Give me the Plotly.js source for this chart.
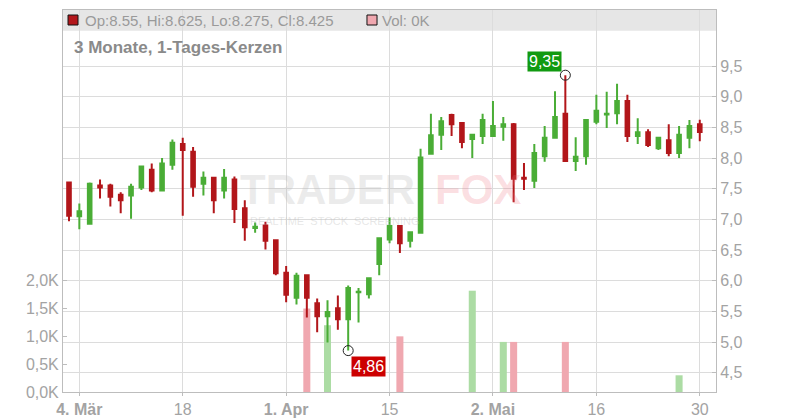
<!DOCTYPE html>
<html>
<head>
<meta charset="utf-8">
<script src="https://cdn.plot.ly/plotly-3.0.1.min.js"></script>
<style>html,body{margin:0;padding:0;background:#fff;}#chart{width:800px;height:420px;}</style>
</head>
<body>
<div id="chart"></div>
<script>
// Trading days (categories)
const dates = [
 "2024-03-01",
 "2024-03-04","2024-03-05","2024-03-06","2024-03-07","2024-03-08",
 "2024-03-11","2024-03-12","2024-03-13","2024-03-14","2024-03-15",
 "2024-03-18","2024-03-19","2024-03-20","2024-03-21","2024-03-22",
 "2024-03-25","2024-03-26","2024-03-27","2024-03-28","2024-03-29",
 "2024-04-01","2024-04-02","2024-04-03","2024-04-04","2024-04-05",
 "2024-04-08","2024-04-09","2024-04-10","2024-04-11","2024-04-12",
 "2024-04-15","2024-04-16","2024-04-17","2024-04-18","2024-04-19",
 "2024-04-22","2024-04-23","2024-04-24","2024-04-25","2024-04-26",
 "2024-05-02","2024-05-03","2024-05-06","2024-05-07","2024-05-08",
 "2024-05-09","2024-05-10","2024-05-13","2024-05-14","2024-05-15",
 "2024-05-16","2024-05-17","2024-05-20","2024-05-21","2024-05-22",
 "2024-05-23","2024-05-24","2024-05-27","2024-05-28","2024-05-29",
 "2024-05-30"
];
const openP = [7.60,7.05,6.93,7.55,7.55,7.40,7.39,7.52,7.81,7.47,
 7.89,8.23,8.10,7.58,7.68,7.47,7.65,7.18,6.86,6.90,
 6.66,6.13,5.72,6.09,5.63,5.42,5.55,5.37,5.81,5.78,
 6.27,6.67,6.89,6.65,6.78,8.07,8.38,8.70,8.57,8.31,
 8.36,8.36,8.51,8.55,7.68,7.63,8.03,8.33,8.72,7.95,
 8.03,8.59,8.71,8.73,8.93,8.36,8.42,8.16,8.29,8.08,
 8.33,8.55];
const highP = [7.60,7.26,7.60,7.65,7.58,7.44,7.58,7.87,7.91,8.00,
 8.30,8.33,8.18,7.78,7.68,7.82,7.70,7.31,6.95,6.96,
 6.66,6.24,6.13,6.09,5.71,5.68,5.76,5.92,5.88,6.04,
 6.69,7.03,6.89,6.80,8.15,8.72,8.67,8.72,8.57,8.39,
 8.72,8.93,8.67,8.57,7.92,8.23,8.52,9.09,9.35,8.34,
 8.62,9.03,9.08,9.21,9.03,8.65,8.47,8.34,8.55,8.52,
 8.62,8.625];
const lowP = [6.97,6.84,6.93,7.34,7.21,7.10,7.01,7.48,7.44,7.47,
 7.81,7.06,7.37,7.39,7.10,7.34,6.94,6.65,6.78,6.51,
 6.09,5.65,5.61,5.40,5.16,4.99,5.20,4.86,5.32,5.71,
 6.09,6.61,6.45,6.54,6.78,8.06,8.13,8.36,8.16,8.00,
 8.23,8.36,8.28,7.28,7.48,7.51,7.94,8.32,7.94,7.79,
 7.89,8.55,8.49,8.55,8.26,8.23,8.18,8.13,8.03,8.00,
 8.16,8.275];
const closeP = [7.06,7.13,7.58,7.52,7.37,7.31,7.53,7.86,7.47,7.91,
 8.25,8.13,7.53,7.68,7.31,7.68,7.17,6.87,6.88,6.65,
 6.12,5.77,6.08,5.72,5.42,5.49,5.37,5.88,5.82,6.04,
 6.69,6.89,6.61,6.79,8.01,8.37,8.60,8.55,8.26,8.38,
 8.62,8.52,8.55,7.66,7.66,8.08,8.33,8.67,7.95,8.02,
 8.62,8.77,8.72,8.93,8.36,8.42,8.21,8.33,8.08,8.38,
 8.52,8.425];
const volume = [0,0,0,0,0,0,0,0,0,0,
 0,0,0,0,0,0,0,0,0,0,
 0,0,0,1500,0,1200,0,0,0,0,
 0,0,1000,0,0,0,0,0,0,1820,
 0,0,900,900,0,0,0,0,900,0,
 0,0,0,0,0,0,0,0,0,300,
 0,0];

// Axis tick labels
const xTickDates = ["2024-03-04","2024-03-18","2024-04-01","2024-04-15","2024-05-02","2024-05-16","2024-05-30"];
const xTickText = ["<b>4. Mär</b>","18","<b>1. Apr</b>","15","<b>2. Mai</b>","16","30"];
const priceTicks = [4.5,5.0,5.5,6.0,6.5,7.0,7.5,8.0,8.5,9.0,9.5];
const volTicks = [0,500,1000,1500,2000];
const volTickText = ["0,0K","0,5K","1,0K","1,5K","2,0K"];

const RED = "#b2161a", GREEN = "#4aad36";
const volColors = closeP.map((c,i)=> c >= openP[i] ? "#acdca4" : "#f0a8b0");

let maxIdx = 0, minIdx = 0;
highP.forEach((h,i)=>{ if (h > highP[maxIdx]) maxIdx = i; });
lowP.forEach((l,i)=>{ if (l < lowP[minIdx]) minIdx = i; });
const fmt = v => v.toFixed(2).replace('.', ',');

const FONT = "Liberation Sans, Arial, sans-serif";

const traces = [
 {type:"bar", x:dates, y:volume, xaxis:"x", yaxis:"y", width:0.68,
  marker:{color:volColors, line:{width:0}}, hoverinfo:"skip"},
 {type:"candlestick", x:dates, open:openP, high:highP, low:lowP, close:closeP,
  xaxis:"x", yaxis:"y2", whiskerwidth:0,
  increasing:{line:{color:GREEN, width:2}, fillcolor:GREEN},
  decreasing:{line:{color:RED, width:2}, fillcolor:RED}, hoverinfo:"skip"},
 {type:"scatter", mode:"markers", x:[dates[maxIdx], dates[minIdx]], y:[highP[maxIdx], lowP[minIdx]],
  xaxis:"x", yaxis:"y2", marker:{symbol:"circle-open", size:10, color:"#222", line:{width:1, color:"#222"}},
  hoverinfo:"skip"}
];

const layout = {
 width:800, height:420,
 margin:{l:63, r:84, t:10, b:28},
 paper_bgcolor:"#fff", plot_bgcolor:"#fff",
 showlegend:false, separators:",.",
 boxgap:0.5, barmode:"overlay",
 font:{family:FONT, color:"#a0a0a0", size:16},
 xaxis:{type:"category", range:[-0.58, 62.57], rangeslider:{visible:false},
  tickmode:"array", tickvals:xTickDates, ticktext:xTickText,
  showgrid:true, gridcolor:"#dcdcdc", gridwidth:1,
  showline:true, linecolor:"#bdbdbd", linewidth:1, mirror:true,
  ticks:"outside", ticklen:3, tickcolor:"#bdbdbd",
  tickfont:{family:FONT, size:16, color:"#a3a3a3"}, zeroline:false, fixedrange:true},
 yaxis:{range:[0, 6864], side:"left", tickmode:"array", tickvals:volTicks, ticktext:volTickText,
  showgrid:false, zeroline:false, showline:true, linecolor:"#bdbdbd", linewidth:1,
  ticks:"inside", ticklen:4, tickcolor:"#bdbdbd",
  tickfont:{family:FONT, size:16, color:"#a3a3a3"}, fixedrange:true},
 yaxis2:{range:[4.185, 10.413], side:"right", overlaying:"y", anchor:"x",
  tickmode:"array", tickvals:priceTicks, tickformat:".1f",
  showgrid:true, gridcolor:"#dcdcdc", gridwidth:1, zeroline:false,
  showline:true, linecolor:"#bdbdbd", linewidth:1,
  ticks:"inside", ticklen:4, tickcolor:"#bdbdbd",
  tickfont:{family:FONT, size:16, color:"#a3a3a3"}, fixedrange:true},
 shapes:[
  {type:"rect", xref:"paper", yref:"paper", x0:0, x1:1, y0:0.946, y1:1, fillcolor:"#e6e6e6", line:{width:0}, layer:"below"},
  {type:"rect", xref:"paper", yref:"paper", x0:0.0077, x1:0.0230, y0:0.9607, y1:0.9869, fillcolor:RED, line:{width:1, color:"#111"}},
  {type:"rect", xref:"paper", yref:"paper", x0:0.4655, x1:0.4809, y0:0.9607, y1:0.9869, fillcolor:"#f0a8b0", line:{width:1, color:"#111"}}
 ],
 annotations:[
  {xref:"paper", yref:"paper", x:0.4043, y:0.531, text:"<b>TRADER</b>", showarrow:false,
   font:{family:FONT, size:42, color:"rgba(185,185,185,0.28)"}},
  {xref:"paper", yref:"paper", x:0.6355, y:0.531, text:"<b>FOX</b>", showarrow:false,
   font:{family:FONT, size:42, color:"rgba(240,110,125,0.22)"}},
  {xref:"paper", yref:"paper", x:0.4165, y:0.448, text:"REALTIME  STOCK  SCREENING", showarrow:false,
   font:{family:FONT, size:11, color:"rgba(185,185,185,0.35)"}},
  {xref:"paper", yref:"paper", x:0.0306, y:0.9725, xanchor:"left", yanchor:"middle", showarrow:false,
   text:"Op:8.55, Hi:8.625, Lo:8.275, Cl:8.425", font:{family:FONT, size:15, color:"#9a9a9a"}},
  {xref:"paper", yref:"paper", x:0.4855, y:0.9725, xanchor:"left", yanchor:"middle", showarrow:false,
   text:"Vol: 0K", font:{family:FONT, size:15, color:"#9a9a9a"}},
  {xref:"paper", yref:"paper", x:0.0138, y:0.903, xanchor:"left", yanchor:"middle", showarrow:false,
   text:"<b>3 Monate, 1-Tages-Kerzen</b>", font:{family:FONT, size:17, color:"#8a8a8a"}},
  {xref:"x", yref:"y2", x:dates[maxIdx], y:highP[maxIdx], xanchor:"right", yanchor:"bottom",
   xshift:-3, yshift:3, showarrow:false, text:fmt(highP[maxIdx]), bgcolor:"#119a11", borderpad:1,
   font:{family:FONT, size:16, color:"#ffffff"}},
  {xref:"x", yref:"y2", x:dates[minIdx], y:lowP[minIdx], xanchor:"left", yanchor:"top",
   xshift:3, yshift:-5, showarrow:false, text:fmt(lowP[minIdx]), bgcolor:"#cc0000", borderpad:1,
   font:{family:FONT, size:16, color:"#ffffff"}}
 ]
};

Plotly.newPlot("chart", traces, layout, {staticPlot:true, displayModeBar:false});
</script>
</body>
</html>
